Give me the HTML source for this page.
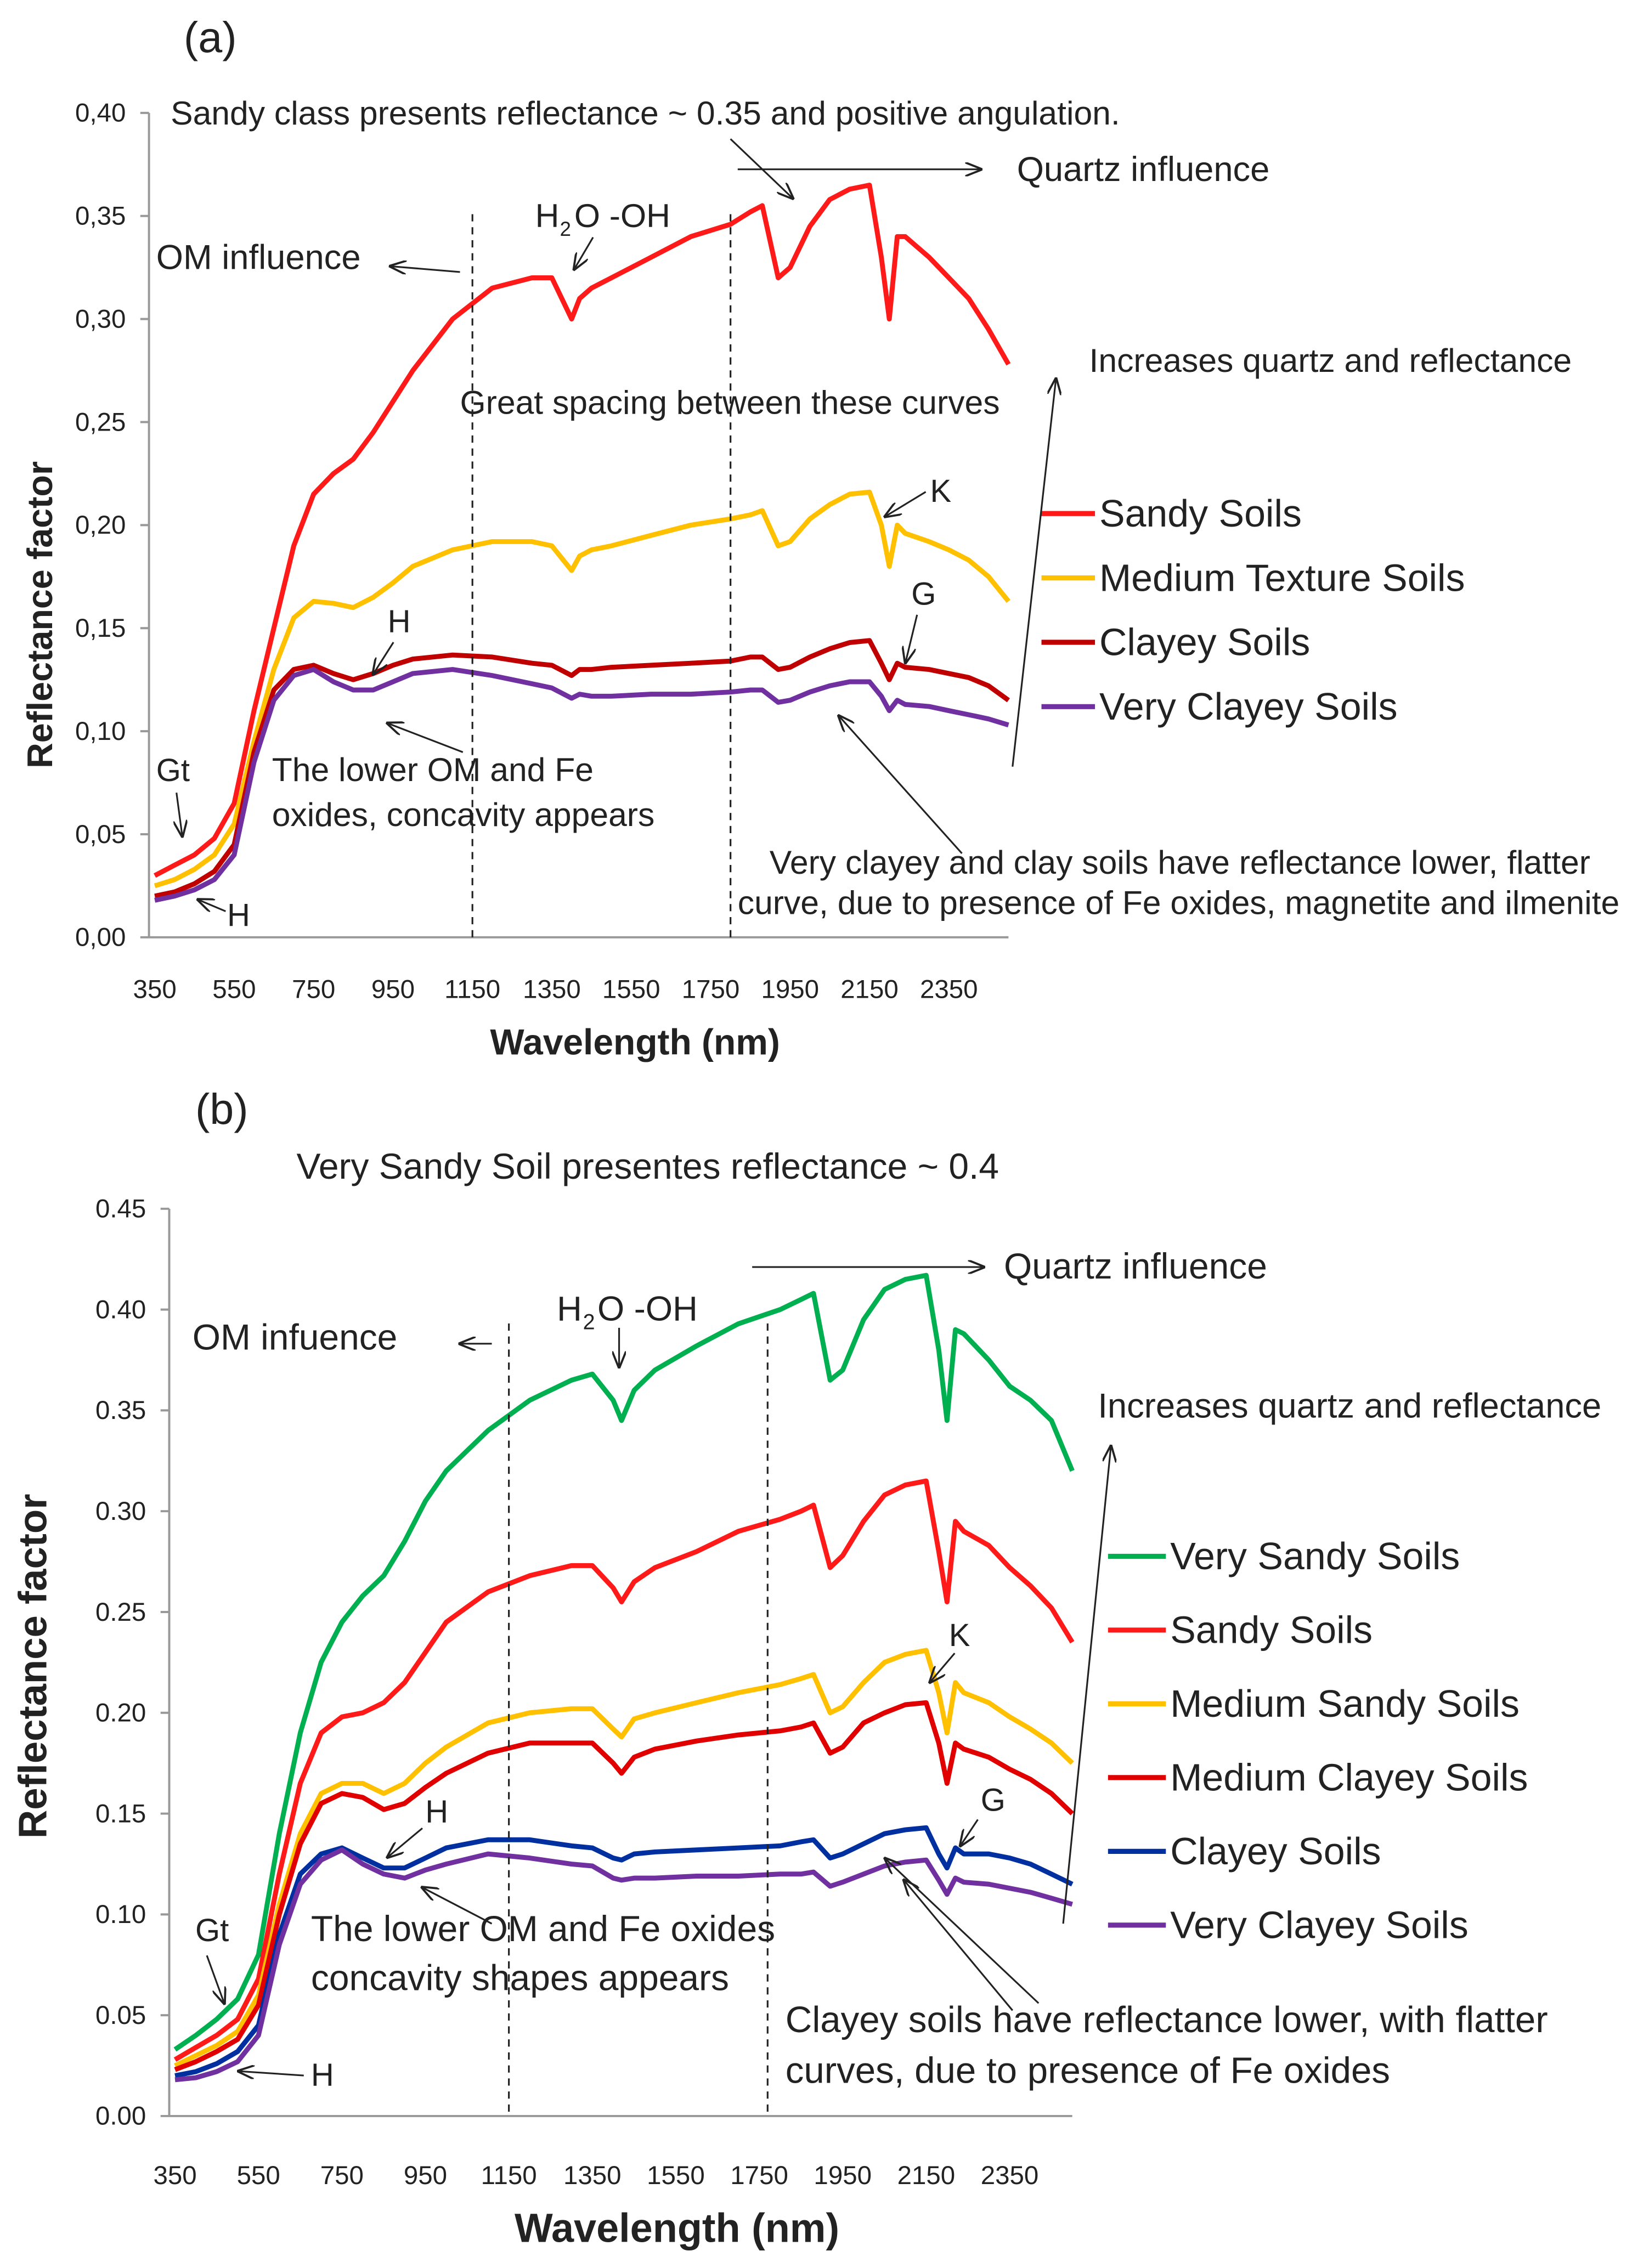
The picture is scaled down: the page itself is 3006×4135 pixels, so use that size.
<!DOCTYPE html>
<html><head><meta charset="utf-8"><style>
html,body{margin:0;padding:0;background:#fff}
svg{display:block}
text{font-family:"Liberation Sans",sans-serif;fill:#222}
</style></head><body>
<svg id="fig" width="3006" height="4135" viewBox="0 0 1140 1568" xmlns="http://www.w3.org/2000/svg">
<defs><marker id="ah" markerWidth="10" markerHeight="8" refX="9" refY="4" orient="auto"><path d="M0,0 L10,4 L0,8" fill="none" stroke="#222" stroke-width="1.2"/></marker></defs>
<g id="ga"></g>
<g id="gb"></g>
</svg>
<script>
const W=[350,400,450,500,550,600,650,700,750,800,850,900,950,1000,1100,1200,1300,1350,1400,1420,1450,1500,1600,1700,1800,1850,1880,1920,1950,2000,2050,2100,2150,2180,2200,2220,2240,2300,2350,2400,2450,2500];
const aSandy=[0.030,0.035,0.040,0.048,0.065,0.110,0.150,0.190,0.215,0.225,0.232,0.245,0.260,0.275,0.300,0.315,0.320,0.320,0.300,0.310,0.315,0.320,0.330,0.340,0.346,0.352,0.355,0.320,0.325,0.345,0.358,0.363,0.365,0.330,0.300,0.340,0.340,0.330,0.320,0.310,0.295,0.278];
const aMedium=[0.025,0.028,0.033,0.040,0.055,0.095,0.130,0.155,0.163,0.162,0.160,0.165,0.172,0.180,0.188,0.192,0.192,0.190,0.178,0.185,0.188,0.190,0.195,0.200,0.203,0.205,0.207,0.190,0.192,0.203,0.210,0.215,0.216,0.200,0.180,0.200,0.196,0.192,0.188,0.183,0.175,0.163];
const aClayey=[0.020,0.022,0.026,0.032,0.045,0.090,0.120,0.130,0.132,0.128,0.125,0.128,0.132,0.135,0.137,0.136,0.133,0.132,0.127,0.130,0.130,0.131,0.132,0.133,0.134,0.136,0.136,0.130,0.131,0.136,0.140,0.143,0.144,0.133,0.125,0.133,0.131,0.130,0.128,0.126,0.122,0.115];
const aVeryClayey=[0.018,0.020,0.023,0.028,0.040,0.085,0.115,0.127,0.130,0.124,0.120,0.120,0.124,0.128,0.130,0.127,0.123,0.121,0.116,0.118,0.117,0.117,0.118,0.118,0.119,0.120,0.120,0.114,0.115,0.119,0.122,0.124,0.124,0.117,0.110,0.115,0.113,0.112,0.110,0.108,0.106,0.103];
const bVerySandy=[0.033,0.040,0.048,0.058,0.080,0.140,0.190,0.225,0.245,0.258,0.268,0.285,0.305,0.320,0.340,0.355,0.365,0.368,0.355,0.345,0.360,0.370,0.382,0.393,0.400,0.405,0.408,0.365,0.370,0.395,0.410,0.415,0.417,0.380,0.345,0.390,0.388,0.375,0.362,0.355,0.345,0.320];
const bSandy=[0.028,0.034,0.040,0.048,0.068,0.120,0.165,0.190,0.198,0.200,0.205,0.215,0.230,0.245,0.260,0.268,0.273,0.273,0.262,0.255,0.265,0.272,0.280,0.290,0.296,0.300,0.303,0.272,0.278,0.295,0.308,0.313,0.315,0.280,0.255,0.295,0.290,0.283,0.272,0.263,0.252,0.235];
const bMediumSandy=[0.025,0.030,0.035,0.042,0.060,0.105,0.140,0.160,0.165,0.165,0.160,0.165,0.175,0.183,0.195,0.200,0.202,0.202,0.192,0.188,0.197,0.200,0.205,0.210,0.214,0.217,0.219,0.200,0.203,0.215,0.225,0.229,0.231,0.210,0.190,0.215,0.210,0.205,0.198,0.192,0.185,0.175];
const bMediumClayey=[0.023,0.027,0.032,0.038,0.055,0.100,0.135,0.155,0.160,0.158,0.152,0.155,0.163,0.170,0.180,0.185,0.185,0.185,0.175,0.170,0.178,0.182,0.186,0.189,0.191,0.193,0.195,0.180,0.183,0.195,0.200,0.204,0.205,0.185,0.165,0.185,0.182,0.178,0.172,0.167,0.160,0.150];
const bClayey=[0.020,0.022,0.026,0.032,0.045,0.090,0.120,0.130,0.133,0.128,0.123,0.123,0.128,0.133,0.137,0.137,0.134,0.133,0.128,0.127,0.130,0.131,0.132,0.133,0.134,0.136,0.137,0.128,0.130,0.135,0.140,0.142,0.143,0.130,0.123,0.133,0.130,0.130,0.128,0.125,0.120,0.115];
const bVeryClayey=[0.018,0.019,0.022,0.027,0.040,0.085,0.115,0.127,0.132,0.125,0.120,0.118,0.122,0.125,0.130,0.128,0.125,0.124,0.118,0.117,0.118,0.118,0.119,0.119,0.120,0.120,0.121,0.114,0.116,0.120,0.124,0.126,0.127,0.117,0.110,0.118,0.116,0.115,0.113,0.111,0.108,0.105];
const xTicks=[350,550,750,950,1150,1350,1550,1750,1950,2150,2350];
const aYTicks=["0,00","0,05","0,10","0,15","0,20","0,25","0,30","0,35","0,40"];
const bYTicks=["0.00","0.05","0.10","0.15","0.20","0.25","0.30","0.35","0.40","0.45"];
const aNames=["Sandy Soils","Medium Texture Soils"," Clayey Soils","Very Clayey Soils"];
const bNames=["Very Sandy Soils","Sandy Soils"," Medium Sandy Soils","Medium Clayey Soils","Clayey Soils","Very Clayey Soils"];

const NS="http://www.w3.org/2000/svg";
function mk(p,tag,at,txt){const e=document.createElementNS(NS,tag);for(const k in at)e.setAttribute(k,at[k]);if(txt!==undefined)e.textContent=txt;p.appendChild(e);return e;}
function slug(s){return s.trim().toLowerCase().replace(/[^a-z0-9]+/g,'-');}

function chart(g,cfg){
  const X=w=>cfg.x0+(w-350)*cfg.xs, Y=v=>cfg.y0-v*cfg.ys;
  const ax=mk(g,'line',{x1:cfg.ax,y1:Y(cfg.ymax),x2:cfg.ax,y2:cfg.y0,stroke:'#999','stroke-width':1.5});
  
  
  const bx=mk(g,'line',{x1:cfg.ax,y1:cfg.y0,x2:X(2500),y2:cfg.y0,stroke:'#999','stroke-width':1.5});
  
  
  cfg.yt.forEach((t,i)=>{const v=i*0.05;
    mk(g,'line',{x1:cfg.ax-6,y1:Y(v),x2:cfg.ax,y2:Y(v),stroke:'#999','stroke-width':1.5});
    const e=mk(g,'text',{x:cfg.ax-16,y:Y(v)+6,'text-anchor':'end','font-size':18},t);
    
    });
  xTicks.forEach(t=>{const e=mk(g,'text',{x:X(t),y:cfg.xl,'text-anchor':'middle','font-size':18},String(t));
    
    });
  cfg.series.forEach((s,i)=>{
    const d=W.map((w,j)=>(j?'L':'M')+X(w).toFixed(1)+','+Y(s.v[j]).toFixed(1)).join(' ');
    const p=mk(g,'path',{d:d,fill:'none',stroke:s.c,'stroke-width':3.4,'stroke-linejoin':'round'});
    
    
    const ly=cfg.ly0+i*cfg.ldy;
    const l=mk(g,'line',{x1:cfg.lx,y1:ly,x2:cfg.lx+cfg.lw,y2:ly,stroke:s.c,'stroke-width':3.5});
    
    
    const t=mk(g,'text',{x:cfg.lx+cfg.lw+3,y:ly+9,'font-size':26.5,'xml:space':'preserve'},s.n);
    
    
  });
  cfg.vl.forEach(w=>{const e=mk(g,'line',{x1:X(w),y1:cfg.vtop,x2:X(w),y2:cfg.y0,stroke:'#222','stroke-width':1.2,'stroke-dasharray':'5,4'});
    
    });
}
function txt(g,x,y,s,fs,name,anchor){const e=mk(g,'text',{x:x,y:y,'font-size':fs||24,'text-anchor':anchor||'start'},s);
  
  return e;}
function arr(g,x1,y1,x2,y2){const e=mk(g,'line',{x1:x1,y1:y1,x2:x2,y2:y2,stroke:'#222','stroke-width':1.2,'marker-end':'url(#ah)'});
  
  }

const ga=document.getElementById('ga'), gb=document.getElementById('gb');
chart(ga,{x0:107,xs:54.9/200,y0:648,ys:1425,ax:103,ymax:0.40,xl:690,yt:aYTicks,vl:[1150,1800],vtop:148,
  lx:720,lw:37,ly0:355,ldy:44.5,
  series:[{n:aNames[0],v:aSandy,c:'#ff1a1a'},{n:aNames[1],v:aMedium,c:'#ffc000'},{n:aNames[2],v:aClayey,c:'#c00000'},{n:aNames[3],v:aVeryClayey,c:'#7030a0'}]});
chart(gb,{x0:121,xs:57.7/200,y0:1463,ys:1394,ax:117,ymax:0.45,xl:1510,yt:bYTicks,vl:[1150,1770],vtop:915,
  lx:766,lw:40,ly0:1076,ldy:51,
  series:[{n:bNames[0],v:bVerySandy,c:'#00b050'},{n:bNames[1],v:bSandy,c:'#ff1a1a'},{n:bNames[2],v:bMediumSandy,c:'#ffc000'},{n:bNames[3],v:bMediumClayey,c:'#e00000'},{n:bNames[4],v:bClayey,c:'#0030a0'},{n:bNames[5],v:bVeryClayey,c:'#7030a0'}]});

// Chart a annotations
txt(ga,127,36,'(a)',30,'panel-label-a');
txt(ga,118,86,'Sandy class presents reflectance ~ 0.35  and positive angulation.',23,'annotation-sandy');
arr(ga,505,96,548,137); arr(ga,510,117,678,117);
txt(ga,703,125,'Quartz influence',24,'annotation-quartz');
txt(ga,108,186,'OM influence',24,'annotation-om');
arr(ga,318,188,270,184);
txt(ga,370,157,'H',23,'annotation-h2o'); txt(ga,387,163,'2',14,'annotation-h2o-sub'); txt(ga,397,157,'O -OH',23,'annotation-h2o-b');
arr(ga,410,164,397,186);
txt(ga,318,286,'Great spacing between these curves',23,'annotation-spacing');
txt(ga,753,257,'Increases quartz and reflectance',23,'annotation-increases');
arr(ga,700,530,730,262);
txt(ga,643,347,'K',22,'annotation-k'); arr(ga,640,340,612,357);
txt(ga,630,418,'G',22,'annotation-g'); arr(ga,634,425,626,458);
txt(ga,268,437,'H',22,'annotation-h'); arr(ga,272,444,258,466);
txt(ga,108,540,'Gt',22,'annotation-gt'); arr(ga,122,548,126,578);
arr(ga,156,630,137,622); txt(ga,157,640,'H',22,'annotation-h-low');
txt(ga,188,540,'The lower OM and Fe',23,'annotation-lower-1');
txt(ga,188,571,'oxides, concavity appears',23,'annotation-lower-2');
arr(ga,320,520,268,500);
txt(ga,532,604,'Very clayey and clay soils have reflectance lower, flatter',23,'annotation-clayey-1');
txt(ga,510,632,'curve, due to presence of Fe oxides, magnetite and ilmenite',23,'annotation-clayey-2');
arr(ga,665,590,580,495);
const ya=txt(ga,36,425,'Reflectance factor',24.5,'y-axis-title','middle');
ya.setAttribute('transform','rotate(-90 36 425)');ya.setAttribute('font-weight','bold');
txt(ga,439,729,'Wavelength (nm)',25,'x-axis-title','middle').setAttribute('font-weight','bold');

// Chart b annotations
txt(gb,135,777,'(b)',30,'panel-label-b');
txt(gb,205,815,'Very Sandy Soil presentes reflectance ~ 0.4',25,'annotation-very-sandy');
arr(gb,520,876,680,876);
txt(gb,694,884,'Quartz influence',25,'annotation-quartz-b');
txt(gb,133,933,'OM infuence',25,'annotation-om-b');
arr(gb,340,929,318,929);
txt(gb,385,913,'H',24,'annotation-h2o-b1'); txt(gb,403,919,'2',15,'annotation-h2o-b-sub'); txt(gb,413,913,'O -OH',24,'annotation-h2o-b2');
arr(gb,428,918,428,945);
txt(gb,759,980,'Increases quartz and reflectance',24,'annotation-increases-b');
arr(gb,735,1330,768,1000);
txt(gb,656,1138,'K',22,'annotation-k-b'); arr(gb,660,1143,643,1163);
txt(gb,678,1252,'G',22,'annotation-g-b'); arr(gb,676,1258,664,1276);
txt(gb,294,1260,'H',22,'annotation-h-b'); arr(gb,292,1264,268,1284);
txt(gb,135,1342,'Gt',22,'annotation-gt-b'); arr(gb,143,1352,155,1385);
arr(gb,210,1435,165,1432); txt(gb,215,1442,'H',22,'annotation-h-low-b');
txt(gb,215,1342,'The lower OM and Fe oxides',25,'annotation-lower-b1');
txt(gb,215,1376,'concavity shapes  appears',25,'annotation-lower-b2');
arr(gb,340,1330,292,1305);
txt(gb,543,1405,'Clayey soils have reflectance lower, with flatter',25.5,'annotation-clayey-b1');
txt(gb,543,1440,'curves, due to presence of Fe oxides',25.5,'annotation-clayey-b2');
arr(gb,718,1385,612,1285); arr(gb,700,1390,625,1300);
const yb=txt(gb,32,1152,'Reflectance  factor',27.5,'y-axis-title-b','middle');
yb.setAttribute('transform','rotate(-90 32 1152)');yb.setAttribute('font-weight','bold');
txt(gb,468,1550,'Wavelength (nm)',28,'x-axis-title-b','middle').setAttribute('font-weight','bold');
</script>
</body></html>
